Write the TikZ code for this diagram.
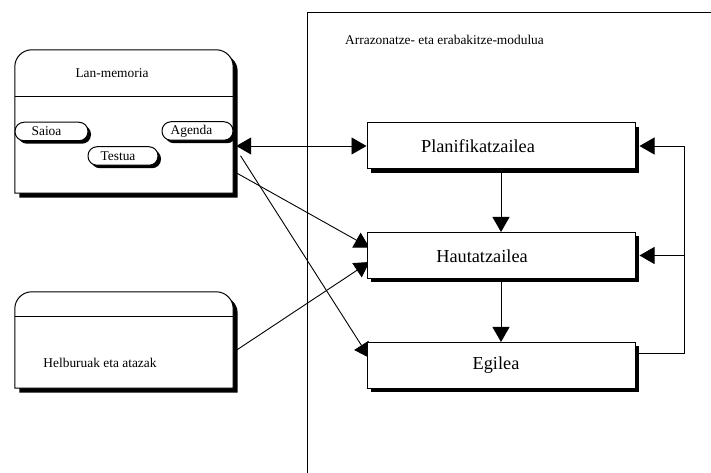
\documentclass[tikz,border=0pt]{standalone}
\usepackage{fontspec}
\setmainfont{Liberation Serif}
\usetikzlibrary{arrows.meta,shadows,calc}
\pgfdeclarelayer{background}
\pgfsetlayers{background,main}

\tikzset{
  smalltext/.style={font=\fontsize{13.4}{16}\selectfont, inner sep=0pt},
  bigtext/.style={font=\fontsize{18.3}{22}\selectfont, inner sep=0pt},
  blackshadow/.style={drop shadow={shadow xshift=#1, shadow yshift=-#1, fill=black, opacity=1}},
  procbox/.style={draw, line width=1pt, fill=white, minimum width=268pt,
    minimum height=46pt, inner sep=0pt, blackshadow=4pt},
  pill/.style={draw, line width=1pt, fill=white, rounded corners=9pt,
    minimum height=18.5pt, inner sep=0pt, blackshadow=3pt},
  storearea/.style={minimum width=218pt, inner sep=0pt},
  storebox/.style={draw, line width=1pt, fill=white, blackshadow=4.5pt},
  conn/.style={line width=0.9pt},
  tip/.tip={Triangle[length=15pt,width=17pt]},
  arr/.style={conn, -tip},
  dblarr/.style={conn, tip-tip},
}

\begin{document}
\begin{tikzpicture}[x=1pt,y=1pt]
\useasboundingbox (0,0) rectangle (711,473);

% module frame, open to the right and below
\draw[line width=0.9pt] (307,0) -- (307,461) -- (711,461);
\node[smalltext, anchor=west] (title) at (345,433) {Arrazonatze- eta erabakitze-modulua};

% working memory store
\node[storearea, minimum height=143pt] (lanmem) at (124,351.5) {};
\draw[storebox] (lanmem.south west) -- ([yshift=-17pt]lanmem.north west)
  arc[start angle=180, end angle=90, radius=17pt]
  -- ([xshift=-17pt]lanmem.north east)
  arc[start angle=90, end angle=0, radius=17pt]
  -- (lanmem.south east) -- cycle;
\draw[line width=0.9pt] ([yshift=-47pt]lanmem.north west) -- ([yshift=-47pt]lanmem.north east);
\node[smalltext] (lanmemT) at (112,400) {Lan-memoria};

\node[pill, minimum width=73pt] (saioa) at (51.5,341.5) {};
\node[smalltext] (saioaT) at ([xshift=-5pt]saioa.center) {Saioa};
\node[pill, minimum width=70pt] (testua) at (123,317) {};
\node[smalltext] (testuaT) at ([xshift=-5pt]testua.center) {Testua};
\node[pill, minimum width=71pt] (agenda) at (197.5,342) {};
\node[smalltext] (agendaT) at ([xshift=-6pt]agenda.center) {Agenda};

% goals and tasks store
\node[storearea, minimum height=96pt] (helb) at (124,133) {};
\draw[storebox] (helb.south west) -- ([yshift=-17pt]helb.north west)
  arc[start angle=180, end angle=90, radius=17pt]
  -- ([xshift=-17pt]helb.north east)
  arc[start angle=90, end angle=0, radius=17pt]
  -- (helb.south east) -- cycle;
\draw[line width=0.9pt] ([yshift=-25pt]helb.north west) -- ([yshift=-25pt]helb.north east);
\node[smalltext] (helbT) at (100,110) {Helburuak eta atazak};

% reasoning components
\node[procbox] (plan) at (501,327) {};
\node[bigtext] (planT) at (478,327) {Planifikatzailea};
\node[procbox] (haut) at (501,217.5) {};
\node[bigtext] (hautT) at (482,216.5) {Hautatzailea};
\node[procbox] (egilea) at (501,107.5) {};
\node[bigtext] (egileaT) at (496,108) {Egilea};

\coordinate (fbtop) at (684,327);
\coordinate (fbmid) at (684,217.5);
\coordinate (agendaout) at ($(agenda.south east)+(7,-15)$);

\begin{pgfonlayer}{background}
  % links from the stores
  \draw[dblarr] ([xshift=3pt]lanmem.east |- plan.west) -- (plan.west);
  \draw[arr] ($(lanmem.south east)+(2,21)$) -- ($(haut.west)+(3,8)$);
  \draw[arr] ($(helb.east)+(2,-11)$) -- ($(haut.west)+(3,-6.5)$);
  \draw[arr] (agendaout) -- ($(egilea.west)+(3,7.5)$);
  % control flow
  \draw[arr] (plan.south) -- (haut.north);
  \draw[arr] (haut.south) -- (egilea.north);
  % feedback loop
  \draw[arr] ([yshift=12.5pt]egilea.east) -| (fbtop) -- ([xshift=4pt]plan.east);
  \draw[arr] (fbmid) -- ([xshift=4pt]haut.east);
\end{pgfonlayer}
\end{tikzpicture}
\end{document}
